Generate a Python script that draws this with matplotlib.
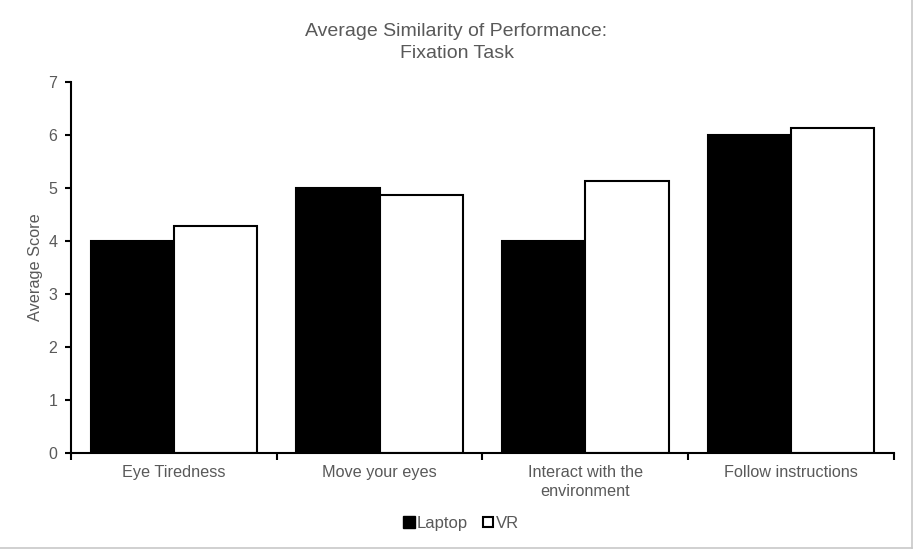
import matplotlib
matplotlib.use("Agg")
import matplotlib.pyplot as plt
import numpy as np
from matplotlib.lines import Line2D

plt.rcParams['font.family'] = ['Liberation Sans', 'DejaVu Sans']

categories = ["Eye Tiredness", "Move your eyes", "Interact with the\nenvironment", "Follow instructions"]
laptop = [4.0, 5.0, 4.0, 6.0]
vr = [4.29, 4.86, 5.14, 6.14]

txt = "#595959"
x = np.arange(len(categories))
w = 0.405

fig = plt.figure(figsize=(9.13, 5.5), dpi=100)
ax = fig.add_axes([0.0778, 0.1764, 0.9013, 0.6745])

ax.bar(x - w / 2, laptop, w, color="black", edgecolor="black", linewidth=1.5, label="Laptop", zorder=2)
ax.bar(x + w / 2, vr, w, color="white", edgecolor="black", linewidth=1.5, label="VR", zorder=2)

ax.set_xlim(-0.5, len(categories) - 0.5)
ax.set_ylim(0, 7)
ax.set_yticks(range(8))

# category labels centred, ticks on the group boundaries
ax.set_xticks(x)
ax.set_xticklabels(categories, color=txt, fontsize=11.7, linespacing=1.3)
ax.tick_params(axis="x", which="major", length=0, pad=9)
ax.set_xticks(np.arange(-0.5, len(categories)), minor=True)
ax.tick_params(axis="x", which="minor", length=5, width=1.5, direction="out")
ax.tick_params(axis="y", length=4, width=1.5, labelcolor=txt, labelsize=11.5, pad=6)

for side in ["top", "right"]:
    ax.spines[side].set_visible(False)
for side in ["left", "bottom"]:
    ax.spines[side].set_linewidth(1.5)
ax.spines["bottom"].set_zorder(3)

ax.set_ylabel("Average Score", color=txt, fontsize=11.7)
ax.yaxis.set_label_coords(-0.034, 0.5)
fig.text(0.5, 0.922, "Average Similarity of Performance:\nFixation Task",
         ha="center", va="center", color=txt, fontsize=14, linespacing=1.4)

handles = [
    Line2D([], [], marker="s", linestyle="", markersize=8.5, markerfacecolor="black", markeredgecolor="black"),
    Line2D([], [], marker="s", linestyle="", markersize=7.5, markerfacecolor="white", markeredgecolor="black", markeredgewidth=1.5),
]
fig.legend(handles, ["Laptop", "VR"], loc="center", bbox_to_anchor=(0.504, 0.048), ncol=2, frameon=False,
           fontsize=12, labelcolor=txt, handletextpad=0.0, columnspacing=0.8, handlelength=0.9)

# chart frame edges
fig.add_artist(Line2D([0.9985, 0.9985], [0.003, 1.0], transform=fig.transFigure, color="#c8c8c8", linewidth=1.2))
fig.add_artist(Line2D([0.0, 0.9985], [0.004, 0.004], transform=fig.transFigure, color="#c8c8c8", linewidth=1.2))

fig.savefig("out.png", dpi=100)
